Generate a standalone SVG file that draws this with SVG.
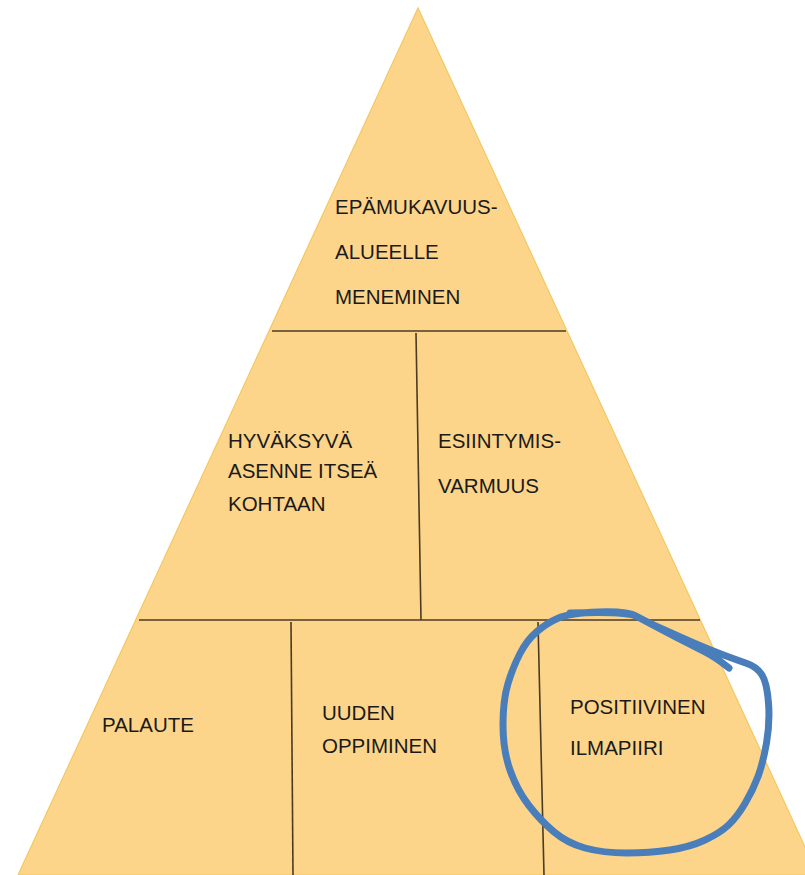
<svg xmlns="http://www.w3.org/2000/svg" width="805" height="875" viewBox="0 0 805 875">
<style>
.t{font-family:"Liberation Sans",Arial,sans-serif;font-size:20.5px;fill:#1a1a1a}
.ln{stroke:#4a3b22;stroke-width:1.6;fill:none}
</style>
<rect width="805" height="875" fill="#ffffff"/>
<g id="pyramid">
<polygon points="418,8 818,875 18,875" fill="#fdd58a" stroke="#f4c860" stroke-width="1.2"/>
</g>
<g id="connectors">
<line class="ln" x1="272" y1="331" x2="566" y2="331"/>
<line class="ln" x1="416" y1="333" x2="421" y2="620"/>
<line class="ln" x1="139" y1="620" x2="700" y2="620"/>
<line class="ln" x1="291" y1="622" x2="293" y2="875"/>
<line class="ln" x1="538" y1="622" x2="544" y2="875"/>
</g>
<g id="top">
<text class="t" x="335" y="214">EPÄMUKAVUUS-</text>
<text class="t" x="335" y="259">ALUEELLE</text>
<text class="t" x="335" y="304">MENEMINEN</text>
</g>
<g id="hyvaksyva">
<text class="t" x="228" y="448">HYVÄKSYVÄ</text>
<text class="t" x="228" y="478">ASENNE ITSEÄ</text>
<text class="t" x="228" y="511">KOHTAAN</text>
</g>
<g id="esiintymis">
<text class="t" x="438" y="448">ESIINTYMIS-</text>
<text class="t" x="438" y="493">VARMUUS</text>
</g>
<g id="palaute">
<text class="t" x="102" y="732">PALAUTE</text>
</g>
<g id="uuden">
<text class="t" x="322" y="720">UUDEN</text>
<text class="t" x="322" y="753">OPPIMINEN</text>
</g>
<g id="positiivinen">
<text class="t" x="570" y="714">POSITIIVINEN</text>
<text class="t" x="570" y="755">ILMAPIIRI</text>
</g>
<g id="circle">
<path fill="none" stroke="#4a7ebb" stroke-width="7" stroke-linejoin="round" stroke-linecap="round" d="M570,613 Q627,611 637,616.5 Q647,622 663.5,629.5 Q680,637 695,643.5 Q710,650 723.5,655 Q737,660 747,663.5 Q757,667 762,675 Q767,683 768.5,703 Q770,723 766.5,743 Q763,763 758,776.5 Q753,790 745,803.5 Q737,817 728.5,825 Q720,833 705,840 Q690,847 670,850 Q650,853 626.5,853 Q603,853 585,848 Q567,843 553.5,831.5 Q540,820 528.5,805 Q517,790 510,770 Q503,750 503,725 Q503,700 508,683.5 Q513,667 520,653.5 Q527,640 537,631.5 Q547,623 558.5,618 Q570,613 598.5,612 Q627,611 637,616.5 Q647,622 666,632 Q685,642 698.5,648.5 Q712,655 720.5,661.5 L729,668"/>
</g>
</svg>
